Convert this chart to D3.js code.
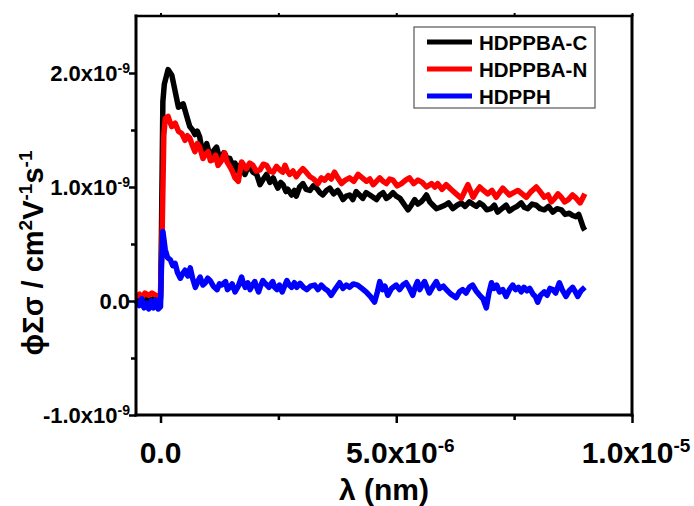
<!DOCTYPE html>
<html>
<head>
<meta charset="utf-8">
<script src="https://cdn.jsdelivr.net/npm/d3@7"></script>
<style>
  body { margin: 0; background: #fff; }
  text { font-family: "Liberation Sans", Arial, sans-serif; font-weight: bold; fill: #000; }
</style>
</head>
<body>
<div id="chart"></div>
<script>
var vWidth = 694;
var vHeight = 506;

// x in units of 1e-6, y in units of 1e-9
var xUnit = 1e-6;
var yUnit = 1e-9;

var seriesNames = ["HDPPBA-C", "HDPPBA-N", "HDPPH"];
var seriesColors = ["#000000", "#ff0000", "#0000ff"];

var dataC = [[-0.52,0.02],[-0.4,0.0],[-0.3,0.03],[-0.2,0.01],[-0.1,0.03],[0.0,0.02],[0.02,0.6],[0.05,1.75],[0.08,1.9],
  [0.16,2.03],[0.24,1.98],[0.31,1.84],[0.38,1.70],[0.48,1.73],[0.55,1.63],[0.62,1.53],[0.68,1.50],[0.73,1.46],[0.78,1.49],[0.83,1.44],
  [0.90,1.28],[0.98,1.38],[1.03,1.30],[1.08,1.25],[1.13,1.32],[1.19,1.35],[1.24,1.27],[1.29,1.24],[1.34,1.30],[1.38,1.28],[1.43,1.22],[1.47,1.25],
  [1.53,1.19],[1.58,1.21],[1.63,1.14],[1.68,1.19],[1.74,1.15],[1.79,1.11],[1.84,1.16],[1.89,1.18],[1.96,1.13],[2.04,1.11],[2.08,1.06],[2.11,1.02],
  [2.18,1.07],[2.25,1.11],[2.32,1.04],[2.39,1.08],[2.44,1.03],[2.49,0.99],[2.55,1.04],[2.60,1.02],[2.66,0.96],[2.70,0.98],
  [2.78,0.93],[2.84,0.97],[2.88,0.92],[2.95,1.00],[3.02,1.03],[3.09,0.98],[3.17,0.97],[3.24,1.01],[3.31,0.99],[3.38,0.95],[3.44,0.93],[3.52,0.97],[3.59,0.99],
  [3.67,0.94],[3.76,0.97],[3.82,0.93],[3.87,0.89],[3.94,0.92],[4.01,0.93],[4.08,0.89],[4.15,0.96],[4.22,0.93],[4.29,0.90],[4.36,0.95],[4.44,0.93],
  [4.51,0.91],[4.58,0.89],[4.65,0.93],[4.72,0.95],[4.79,0.90],[4.86,0.92],[4.93,0.95],[5.0,0.92],[5.08,0.90],
  [5.18,0.84],[5.25,0.80],[5.32,0.84],[5.39,0.89],[5.46,0.85],[5.53,0.87],[5.59,0.90],[5.64,0.93],[5.71,0.87],[5.78,0.84],[5.85,0.81],[5.92,0.82],[6.03,0.84],
  [6.11,0.86],[6.20,0.81],[6.29,0.84],[6.38,0.86],[6.46,0.83],[6.55,0.87],[6.62,0.85],[6.70,0.83],[6.77,0.86],[6.84,0.84],[6.92,0.80],[7.01,0.81],[7.08,0.84],[7.15,0.78],
  [7.24,0.81],[7.33,0.84],[7.40,0.79],[7.47,0.81],[7.56,0.83],[7.65,0.86],[7.72,0.82],[7.79,0.81],[7.88,0.85],[7.97,0.84],[8.05,0.81],[8.14,0.80],[8.23,0.83],
  [8.32,0.78],[8.41,0.81],[8.50,0.80],[8.58,0.76],[8.67,0.77],[8.74,0.75],[8.81,0.74],[8.87,0.76],[8.92,0.70],
  [8.97,0.64],[9.0,0.62]];

var dataN = [[-0.52,0.04],[-0.45,0.06],[-0.4,0.03],[-0.33,0.07],[-0.25,0.05],[-0.18,0.07],[-0.1,0.05],[0.0,0.04],
  [0.03,0.5],[0.07,1.45],[0.1,1.6],[0.16,1.62],[0.20,1.57],[0.24,1.53],[0.31,1.56],[0.38,1.49],[0.45,1.47],[0.52,1.41],
  [0.57,1.45],[0.62,1.43],[0.68,1.36],[0.73,1.31],[0.78,1.38],[0.83,1.35],[0.90,1.25],[0.96,1.29],[1.01,1.31],[1.06,1.23],[1.12,1.24],[1.17,1.28],[1.22,1.19],
  [1.29,1.23],[1.36,1.30],[1.41,1.22],[1.47,1.18],[1.52,1.14],[1.58,1.08],[1.65,1.05],[1.72,1.22],[1.77,1.19],[1.82,1.16],[1.89,1.21],[1.96,1.19],
  [2.03,1.14],[2.11,1.15],[2.18,1.20],[2.25,1.19],[2.32,1.14],[2.39,1.13],[2.46,1.18],[2.53,1.15],
  [2.59,1.13],[2.64,1.19],[2.69,1.14],[2.74,1.11],[2.81,1.14],[2.88,1.09],[2.95,1.13],[3.02,1.16],[3.09,1.13],[3.17,1.09],[3.25,1.07],[3.34,1.03],
  [3.41,1.08],[3.48,1.06],[3.56,1.10],[3.62,1.07],[3.69,1.13],[3.76,1.08],[3.84,1.03],[3.92,1.06],
  [4.01,1.08],[4.10,1.05],[4.19,1.11],[4.28,1.08],[4.37,1.05],[4.44,1.07],[4.51,1.02],[4.58,1.05],[4.65,1.08],[4.72,1.05],[4.79,1.03],[4.86,1.07],
  [4.93,1.06],[5.02,1.01],[5.11,1.03],[5.20,1.06],[5.28,1.08],[5.37,1.03],[5.46,1.06],[5.55,1.04],
  [5.64,1.00],[5.75,1.03],[5.82,1.00],[5.88,1.03],[5.97,0.98],[6.06,1.02],[6.16,0.98],[6.27,0.94],[6.38,0.90],[6.45,0.96],[6.52,1.02],[6.58,0.96],[6.63,0.91],
  [6.70,0.96],[6.77,1.00],[6.85,0.97],[6.94,0.94],[7.03,0.97],[7.12,0.91],[7.19,0.95],[7.26,0.99],[7.33,0.96],[7.40,0.93],[7.49,0.95],[7.58,0.97],
  [7.67,0.94],[7.76,0.91],[7.86,0.96],[7.97,1.00],[8.05,0.96],[8.14,0.91],[8.22,0.93],
  [8.29,0.87],[8.36,0.90],[8.43,0.94],[8.50,0.91],[8.57,0.87],[8.65,0.89],[8.74,0.93],[8.82,0.90],[8.90,0.86],[8.95,0.90],[9.0,0.94]];

var dataH = [[-0.52,0.0],[-0.45,-0.04],[-0.4,0.02],[-0.35,-0.06],[-0.3,-0.02],[-0.25,-0.07],[-0.2,0.0],[-0.15,-0.06],
  [-0.1,0.01],[-0.05,-0.07],[0.0,-0.05],[0.02,0.3],[0.05,0.61],[0.1,0.45],[0.15,0.38],[0.21,0.36],[0.26,0.31],[0.31,0.33],
  [0.36,0.25],[0.42,0.20],[0.47,0.24],[0.52,0.27],[0.58,0.22],[0.63,0.29],[0.68,0.20],[0.74,0.12],[0.79,0.17],[0.84,0.21],[0.90,0.14],[0.95,0.16],
  [1.0,0.20],[1.05,0.18],[1.12,0.13],[1.2,0.10],[1.25,0.15],[1.3,0.14],[1.38,0.17],[1.42,0.10],[1.47,0.12],[1.52,0.15],[1.58,0.08],
  [1.65,0.13],[1.72,0.21],[1.76,0.15],[1.8,0.12],[1.85,0.16],[1.9,0.10],[1.95,0.14],[2.0,0.17],[2.04,0.12],[2.08,0.08],[2.12,0.13],[2.17,0.18],
  [2.23,0.15],[2.3,0.12],[2.34,0.15],[2.38,0.17],[2.42,0.12],[2.47,0.10],[2.52,0.14],[2.58,0.08],[2.63,0.13],[2.68,0.18],[2.73,0.14],[2.78,0.12],
  [2.84,0.16],[2.89,0.12],[2.96,0.155],[3.03,0.12],[3.10,0.10],[3.18,0.13],[3.27,0.14],[3.34,0.10],[3.41,0.14],[3.48,0.11],[3.55,0.09],[3.62,0.05],
  [3.70,0.10],[3.80,0.16],[3.87,0.11],[3.94,0.14],[4.01,0.12],[4.09,0.15],[4.18,0.14],[4.27,0.11],[4.36,0.08],[4.45,0.04],[4.54,-0.01],
  [4.60,0.08],[4.65,0.17],[4.71,0.10],[4.76,0.13],[4.82,0.05],[4.90,0.11],[5.0,0.14],[5.07,0.10],[5.14,0.14],[5.21,0.16],[5.28,0.11],[5.35,0.05],
  [5.40,0.12],[5.45,0.17],[5.50,0.10],[5.55,0.14],[5.6,0.17],[5.65,0.12],[5.7,0.07],[5.77,0.12],[5.85,0.17],[5.92,0.11],[6.0,0.13],[6.06,0.10],
  [6.16,0.06],[6.27,0.03],[6.34,0.08],[6.41,0.10],[6.48,0.07],[6.55,0.12],[6.62,0.14],[6.69,0.09],[6.77,0.05],[6.84,0.02],[6.91,-0.06],
  [6.96,0.06],[7.02,0.16],[7.07,0.11],[7.13,0.14],[7.19,0.08],[7.26,0.10],[7.33,0.04],[7.40,0.10],[7.47,0.14],[7.53,0.10],[7.59,0.12],[7.65,0.08],
  [7.71,0.12],[7.77,0.09],[7.83,0.11],[7.90,0.06],[7.95,0.04],[8.0,-0.01],[8.06,0.05],[8.14,0.08],[8.20,0.05],[8.26,0.11],[8.32,0.10],
  [8.38,0.07],[8.46,0.16],[8.53,0.09],[8.6,0.04],[8.67,0.09],[8.74,0.12],[8.80,0.08],[8.85,0.04],[8.92,0.09],[9.0,0.12]];

var xMajor = [0, 5e-6, 1e-5];
var xMinor = [2.5e-6, 7.5e-6];
var xTickLabels = [["0.0", ""], ["5.0x10", "-6"], ["1.0x10", "-5"]];
var yMajor = [-1e-9, 0, 1e-9, 2e-9];
var yMinor = [-0.5e-9, 0.5e-9, 1.5e-9];
var yTickLabels = [["-1.0x10", "-9"], ["0.0", ""], ["1.0x10", "-9"], ["2.0x10", "-9"]];

var plot = { left: 136, right: 632, top: 16, bottom: 415 };

var svg = d3.select("#chart")
    .append("svg")
    .attr("width", vWidth)
    .attr("height", vHeight);

var x = d3.scaleLinear().domain([-0.52e-6, 1e-5]).range([plot.left, plot.right]);
var y = d3.scaleLinear().domain([-1e-9, 2.5e-9]).range([plot.bottom, plot.top]);

// data lines
var line = d3.line()
    .x(d => x(d[0] * xUnit))
    .y(d => y(d[1] * yUnit));

[dataC, dataN, dataH].forEach(function (data, i) {
    svg.append("path")
        .datum(data)
        .attr("d", line)
        .attr("fill", "none")
        .attr("stroke", seriesColors[i])
        .attr("stroke-width", 5.5)
        .attr("stroke-linejoin", "round")
        .attr("stroke-linecap", "butt");
});

// axes
function styleAxis(g, w) {
    g.select(".domain").remove();
    g.selectAll("line").attr("stroke", "#000").attr("stroke-width", w);
}

svg.append("g").attr("transform", `translate(0,${plot.bottom})`)
    .call(d3.axisBottom(x).tickValues(xMajor).tickSize(8).tickFormat(""))
    .call(g => styleAxis(g, 2.5));
svg.append("g").attr("transform", `translate(0,${plot.bottom})`)
    .call(d3.axisBottom(x).tickValues(xMinor).tickSize(5).tickFormat(""))
    .call(g => styleAxis(g, 2.5));
svg.append("g").attr("transform", `translate(0,${plot.top})`)
    .call(d3.axisTop(x).tickValues(xMajor.concat(xMinor)).tickSize(3).tickFormat(""))
    .call(g => styleAxis(g, 2));
svg.append("g").attr("transform", `translate(${plot.left},0)`)
    .call(d3.axisLeft(y).tickValues(yMajor).tickSize(7).tickFormat(""))
    .call(g => styleAxis(g, 2.5));
svg.append("g").attr("transform", `translate(${plot.left},0)`)
    .call(d3.axisLeft(y).tickValues(yMinor).tickSize(5).tickFormat(""))
    .call(g => styleAxis(g, 2.5));

// frame
var frame = [
    [plot.left, plot.top, plot.right, plot.top, 2.5],
    [plot.right, plot.top, plot.right, plot.bottom, 3],
    [plot.left, plot.bottom, plot.right, plot.bottom, 3],
    [plot.left, plot.top, plot.left, plot.bottom, 3]
];
svg.append("g").selectAll("line")
    .data(frame)
    .enter().append("line")
    .attr("x1", d => d[0]).attr("y1", d => d[1])
    .attr("x2", d => d[2]).attr("y2", d => d[3])
    .attr("stroke", "#000")
    .attr("stroke-width", d => d[4])
    .attr("stroke-linecap", "square");

// tick labels
function supLabel(sel, lab, supSize, supRise) {
    sel.append("tspan").text(lab[0]);
    if (lab[1]) {
        sel.append("tspan").attr("font-size", supSize).attr("dy", -supRise).text(lab[1]);
    }
}

xMajor.forEach(function (v, i) {
    var t = svg.append("text")
        .attr("x", x(v) + (xTickLabels[i][1] ? 4 : 0))
        .attr("y", 463)
        .attr("text-anchor", "middle")
        .attr("font-size", 30);
    supLabel(t, xTickLabels[i], 19, 11);
});

yMajor.forEach(function (v, i) {
    var t = svg.append("text")
        .attr("x", 130)
        .attr("y", y(v) + 8)
        .attr("text-anchor", "end")
        .attr("font-size", 22);
    supLabel(t, yTickLabels[i], 14, 8);
});

// axis titles
svg.append("text")
    .attr("x", 384).attr("y", 500)
    .attr("text-anchor", "middle")
    .attr("font-size", 30)
    .text("λ (nm)");

var yTitle = svg.append("text")
    .attr("transform", "translate(43,253) rotate(-90)")
    .attr("text-anchor", "middle")
    .attr("font-size", 29);
yTitle.append("tspan").text("ϕΣσ / cm");
yTitle.append("tspan").attr("font-size", 19).attr("dy", -11).text("2");
yTitle.append("tspan").attr("dy", 11).text("V");
yTitle.append("tspan").attr("font-size", 19).attr("dy", -11).text("-1");
yTitle.append("tspan").attr("dy", 11).text("s");
yTitle.append("tspan").attr("font-size", 19).attr("dy", -11).text("-1");

// legend
var legend = svg.append("g");
legend.append("rect")
    .attr("x", 414).attr("y", 27).attr("width", 181).attr("height", 81)
    .attr("fill", "#fff").attr("stroke", "#555").attr("stroke-width", 1.2);

seriesNames.forEach(function (name, i) {
    var ly = 42 + i * 27;
    legend.append("line")
        .attr("x1", 427).attr("x2", 472)
        .attr("y1", ly).attr("y2", ly)
        .attr("stroke", seriesColors[i])
        .attr("stroke-width", 5);
    legend.append("text")
        .attr("x", 479).attr("y", ly + 7.5)
        .attr("font-size", 20.5)
        .text(name);
});
</script>
</body>
</html>
